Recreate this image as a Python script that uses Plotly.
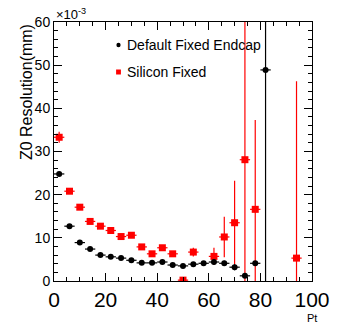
import plotly.graph_objects as go

# Data (Pt bin centres, resolution values in units of 1e-3 mm)
black_x = [2, 6, 10, 14, 18, 22, 26, 30, 34, 38, 42, 46, 50, 54, 58, 62, 66, 70, 74, 78, 82]
black_y = [24.8, 12.7, 8.9, 7.4, 6.0, 5.6, 5.3, 4.8, 4.2, 4.2, 4.4, 3.7, 3.5, 3.9, 4.1, 4.4, 4.1, 3.2, 1.2, 4.1, 48.9]
black_err = [0.5, 0.3, 0.3, 0.3, 0.3, 0.3, 0.3, 0.3, 0.3, 0.3, 0.3, 0.3, 0.3, 0.3, 0.3, 0.6, 0.6, 0.7, 0.5, 0.5, 60]

red_x = [2, 6, 10, 14, 18, 22, 26, 30, 34, 38, 42, 46, 50, 54, 62, 66, 70, 74, 78, 94]
red_y = [33.3, 20.8, 17.1, 13.8, 12.7, 11.7, 10.3, 10.6, 7.9, 6.3, 7.7, 6.3, 0.2, 6.7, 5.7, 10.2, 13.5, 28.1, 16.6, 5.3]
red_err = [1.3, 0.5, 0.5, 0.5, 0.5, 0.5, 0.5, 0.5, 0.5, 0.5, 0.5, 0.5, 0.4, 1.0, 2.0, 4.7, 9.7, 40, 20.7, 41]

bin_half = 2
x_ticks = [0, 20, 40, 60, 80, 100]
y_ticks = [0, 10, 20, 30, 40, 50, 60]

legend_labels = ["Default Fixed Endcap", "Silicon Fixed"]

FONT = "Liberation Sans, Arial, sans-serif"

fig = go.Figure()
fig.add_trace(go.Scatter(
    x=red_x, y=red_y, mode="markers",
    marker=dict(symbol="square", size=7, color="red"),
    error_y=dict(type="data", array=red_err, color="red", thickness=1.2, width=0),
    error_x=dict(type="constant", value=bin_half, color="red", thickness=1.2, width=0),
    showlegend=False, cliponaxis=True,
))
fig.add_trace(go.Scatter(
    x=black_x, y=black_y, mode="markers",
    marker=dict(symbol="circle", size=6, color="black"),
    error_y=dict(type="data", array=black_err, color="black", thickness=1.2, width=0),
    error_x=dict(type="constant", value=bin_half, color="black", thickness=1.2, width=0),
    showlegend=False, cliponaxis=True,
))

axis_common = dict(
    showgrid=False, zeroline=False, showline=True, linecolor="black", linewidth=1,
    mirror="ticks", ticks="inside", ticklen=8, tickcolor="black", tickwidth=1,
)

fig.update_xaxes(
    range=[0, 100], tickvals=x_ticks, ticktext=[str(v) for v in x_ticks],
    tickfont=dict(family=FONT, size=21, color="black"),
    minor=dict(ticks="inside", dtick=5, ticklen=4, tickcolor="black", showgrid=False),
    **axis_common,
)
fig.update_yaxes(
    range=[0, 60], tickvals=y_ticks, ticktext=[str(v) for v in y_ticks],
    tickfont=dict(family=FONT, size=14, color="black"),
    minor=dict(ticks="inside", dtick=2, ticklen=4, tickcolor="black", showgrid=False),
    **axis_common,
)

def px_x(p):
    return (p - 54) / 268

def px_y(p):
    return (281 - p) / 259

annotations = [
    dict(text="×10<sup>-3</sup>", xref="paper", yref="paper", x=0, y=1,
         xanchor="left", yanchor="bottom", showarrow=False, yshift=-2,
         font=dict(family=FONT, size=13, color="black")),
    dict(text="Z0 Resolution(mm)", xref="paper", yref="paper", x=px_x(25), y=1,
         xanchor="center", yanchor="top", textangle=-90, showarrow=False,
         font=dict(family=FONT, size=16, color="black")),
    dict(text="Pt", xref="paper", yref="paper", x=px_x(329), y=px_y(310),
         xanchor="right", yanchor="top", showarrow=False,
         font=dict(family=FONT, size=11, color="black")),
    dict(text=legend_labels[0], xref="paper", yref="paper", x=px_x(128),
         y=px_y(45), xanchor="left", yanchor="middle", showarrow=False,
         font=dict(family=FONT, size=14, color="black")),
    dict(text=legend_labels[1], xref="paper", yref="paper", x=px_x(128),
         y=px_y(72), xanchor="left", yanchor="middle", showarrow=False,
         font=dict(family=FONT, size=14, color="black")),
]

# legend symbols (decorations in paper coordinates)
shapes = [
    dict(type="circle", xref="paper", yref="paper",
         x0=px_x(118.8), x1=px_x(123.2), y0=px_y(47.2), y1=px_y(42.8),
         fillcolor="black", line=dict(width=0)),
    dict(type="rect", xref="paper", yref="paper",
         x0=px_x(118.5), x1=px_x(123.5), y0=px_y(74.5), y1=px_y(69.5),
         fillcolor="red", line=dict(width=0)),
]

fig.update_layout(
    width=342, height=325,
    margin=dict(l=54, r=20, t=22, b=44),
    paper_bgcolor="white", plot_bgcolor="white",
    annotations=annotations, shapes=shapes,
    font=dict(family=FONT, color="black"),
)

fig.write_html("out.html")
